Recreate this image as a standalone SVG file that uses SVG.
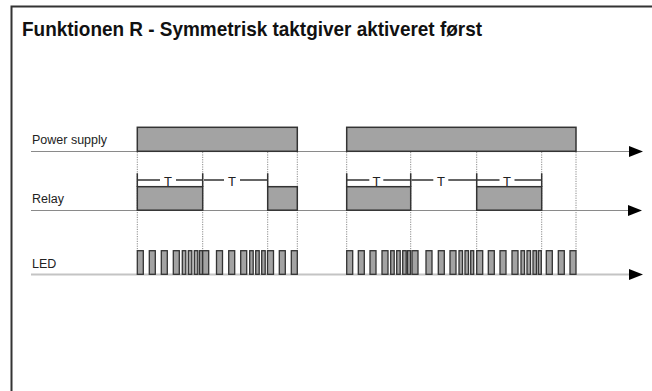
<svg xmlns="http://www.w3.org/2000/svg" width="652" height="391" viewBox="0 0 652 391">
<style>
.title{font-family:"Liberation Sans",Arial,sans-serif;font-weight:bold;font-size:21px;fill:#111}
.lbl{font-family:"Liberation Sans",Arial,sans-serif;font-size:12.5px;fill:#222}
.t{font-family:"Liberation Sans",Arial,sans-serif;font-size:13px;fill:#222;text-anchor:middle}
.axis{stroke:#8a8a8a;stroke-width:1;fill:none}
.axisled{stroke:#c4c4c4;stroke-width:2;fill:none}
.blk{fill:#a3a3a3;stroke:#333;stroke-width:1.5}
.pulse{fill:#a3a3a3;stroke:#333;stroke-width:1.3}
.dot{stroke:#8a8a8a;stroke-width:1;stroke-dasharray:1.2 1.2;fill:none}
.tl{stroke:#333;stroke-width:1.5;fill:none}
.arrow{fill:#000}
</style>
<rect width="652" height="391" fill="#fff"/>
<path d="M11.5,391 V6.5 H652" fill="none" stroke="#333" stroke-width="2"/>
<text class="title" x="22" y="35.5" textLength="460" lengthAdjust="spacingAndGlyphs">Funktionen R - Symmetrisk taktgiver aktiveret først</text>

<g id="labels">
<text class="lbl" x="32" y="144">Power supply</text>
<text class="lbl" x="32" y="203">Relay</text>
<text class="lbl" x="32" y="268">LED</text>
</g>

<g id="connectors">
<g id="guides">
<path class="dot" d="M137.3,152V251 M202.7,152V251 M267.7,152V251 M297.3,152V251 M346.7,152V251 M410.7,152V251 M476.7,152V251 M541.7,152V251 M576,152V251"/>
</g>
<g id="axes">
<path class="axis" d="M31,151.5H630"/>
<path class="axis" d="M31,210.5H630"/>
<path class="axisled" d="M31,274.5H630"/>
<polygon class="arrow" points="629,146 643,151.5 629,157"/>
<polygon class="arrow" points="628,205 642,210.5 628,216"/>
<polygon class="arrow" points="629,269 643,274.5 629,280"/>
</g>
<g id="tmarks">
<path class="tl" d="M137.3,173.3V186.7 M202.7,173.3V186.7 M267.7,173.3V186.7 M137.3,180H160 M176,180H202.7 M204,180H224 M240,180H267.7"/>
<path class="tl" d="M346.7,173.3V186.7 M410.7,173.3V186.7 M476.7,173.3V186.7 M541.7,173.3V186.7 M346.7,180H369.3 M383.3,180H410.7 M411.7,180H433.3 M448.3,180H476.7 M476.7,180H499.5 M514.5,180H541.7"/>
<text class="t" x="168" y="185.7">T</text>
<text class="t" x="232" y="185.7">T</text>
<text class="t" x="376.5" y="185.7">T</text>
<text class="t" x="441" y="185.7">T</text>
<text class="t" x="507" y="185.7">T</text>
</g>
</g>

<g id="power">
<rect class="blk" x="137.3" y="127.3" width="160" height="24"/>
<rect class="blk" x="346.7" y="127.3" width="229.3" height="24"/>
</g>

<g id="relay">
<rect class="blk" x="137.3" y="186.7" width="65.4" height="23.5"/>
<rect class="blk" x="267.7" y="186.7" width="29.6" height="23.5"/>
<rect class="blk" x="346.7" y="186.7" width="64" height="23.5"/>
<rect class="blk" x="476.7" y="186.7" width="65" height="23.5"/>
</g>

<g id="led">
<rect class="pulse" x="137.3" y="250.7" width="6" height="23.6"/>
<rect class="pulse" x="149.3" y="250.7" width="6" height="23.6"/>
<rect class="pulse" x="161.3" y="250.7" width="6" height="23.6"/>
<rect class="pulse" x="173.3" y="250.7" width="6" height="23.6"/>
<rect class="pulse" x="182.3" y="250.7" width="3.5" height="23.6"/>
<rect class="pulse" x="188.3" y="250.7" width="3.5" height="23.6"/>
<rect class="pulse" x="194.3" y="250.7" width="3.5" height="23.6"/>
<rect class="pulse" x="199.5" y="250.7" width="3" height="23.6"/>
<rect class="pulse" x="202.7" y="250.7" width="6" height="23.6"/>
<rect class="pulse" x="216.5" y="250.7" width="6" height="23.6"/>
<rect class="pulse" x="228.7" y="250.7" width="6" height="23.6"/>
<rect class="pulse" x="240.7" y="250.7" width="6" height="23.6"/>
<rect class="pulse" x="249.7" y="250.7" width="3.5" height="23.6"/>
<rect class="pulse" x="255.7" y="250.7" width="3.5" height="23.6"/>
<rect class="pulse" x="261.7" y="250.7" width="3.5" height="23.6"/>
<rect class="pulse" x="267.5" y="250.7" width="6" height="23.6"/>
<rect class="pulse" x="279.3" y="250.7" width="6" height="23.6"/>
<rect class="pulse" x="291.3" y="250.7" width="6" height="23.6"/>

<rect class="pulse" x="346.7" y="250.7" width="6" height="23.6"/>
<rect class="pulse" x="358.3" y="250.7" width="6" height="23.6"/>
<rect class="pulse" x="370" y="250.7" width="6" height="23.6"/>
<rect class="pulse" x="382" y="250.7" width="6" height="23.6"/>
<rect class="pulse" x="390.7" y="250.7" width="3.5" height="23.6"/>
<rect class="pulse" x="396.7" y="250.7" width="3.5" height="23.6"/>
<rect class="pulse" x="402.7" y="250.7" width="3.5" height="23.6"/>
<rect class="pulse" x="407.5" y="250.7" width="3" height="23.6"/>
<rect class="pulse" x="412" y="250.7" width="6" height="23.6"/>
<rect class="pulse" x="426" y="250.7" width="6" height="23.6"/>
<rect class="pulse" x="438.3" y="250.7" width="6" height="23.6"/>
<rect class="pulse" x="450" y="250.7" width="6" height="23.6"/>
<rect class="pulse" x="459" y="250.7" width="3.5" height="23.6"/>
<rect class="pulse" x="465" y="250.7" width="3.5" height="23.6"/>
<rect class="pulse" x="470.7" y="250.7" width="3" height="23.6"/>
<rect class="pulse" x="476.7" y="250.7" width="6" height="23.6"/>
<rect class="pulse" x="488.3" y="250.7" width="6" height="23.6"/>
<rect class="pulse" x="500" y="250.7" width="6" height="23.6"/>
<rect class="pulse" x="512" y="250.7" width="6" height="23.6"/>
<rect class="pulse" x="521" y="250.7" width="3.5" height="23.6"/>
<rect class="pulse" x="527" y="250.7" width="3.5" height="23.6"/>
<rect class="pulse" x="533" y="250.7" width="3.5" height="23.6"/>
<rect class="pulse" x="538.3" y="250.7" width="3" height="23.6"/>
<rect class="pulse" x="546.3" y="250.7" width="6" height="23.6"/>
<rect class="pulse" x="558.3" y="250.7" width="6" height="23.6"/>
<rect class="pulse" x="570" y="250.7" width="6" height="23.6"/>
</g>
</svg>
